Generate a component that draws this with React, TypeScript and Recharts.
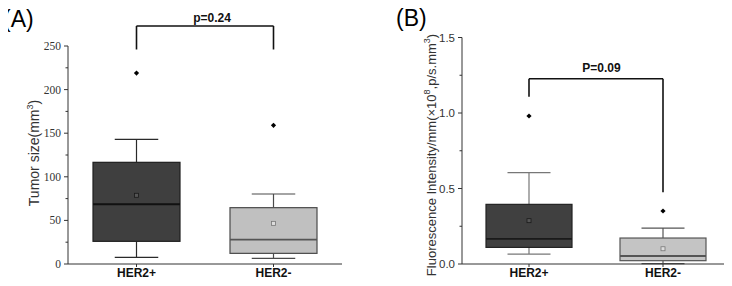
import { ComposedChart, Bar, Scatter, XAxis, YAxis, ReferenceLine } from "recharts";

const groups = ["HER2+", "HER2-"];

// (A) tumor size, mm³
const tumorMin = [7.7, 6.5];
const tumorQ1 = [26, 12.2];
const tumorMedian = [68.5, 28];
const tumorQ3 = [116.6, 64.6];
const tumorMax = [143, 80.3];
const tumorMean = [78.8, 46.6];
const tumorOutlier = [219, 159];
const tumorTicks = [0, 25, 50, 75, 100, 125, 150, 175, 200, 225, 250];

// (B) fluorescence intensity per mm³
const fluoMin = [0.066, 0.002];
const fluoQ1 = [0.11, 0.022];
const fluoMedian = [0.166, 0.053];
const fluoQ3 = [0.395, 0.172];
const fluoMax = [0.605, 0.238];
const fluoMean = [0.287, 0.101];
const fluoOutlier = [0.98, 0.351];
const fluoTicks = [0, 0.25, 0.5, 0.75, 1, 1.25, 1.5];

// significance brackets: [top, left leg end, right leg end]
const bracketA = [273, 246, 246];
const bracketB = [1.227, 1.108, 0.475];

type Palette = { fill: string; stroke: string; median: string; whisker: string; meanStroke: string; meanFill: string };

const paletteA: Palette[] = [
  { fill: "#3f3f3f", stroke: "#1e1e1e", median: "#111", whisker: "#2a2a2a", meanStroke: "#1a1a1a", meanFill: "#555" },
  { fill: "#c0c0c0", stroke: "#4a4a4a", median: "#555", whisker: "#4a4a4a", meanStroke: "#777", meanFill: "#ddd" },
];
const paletteB: Palette[] = [
  { fill: "#404040", stroke: "#222", median: "#1a1a1a", whisker: "#777", meanStroke: "#1a1a1a", meanFill: "#555" },
  { fill: "#c4c4c4", stroke: "#555", median: "#555", whisker: "#555", meanStroke: "#777", meanFill: "#ddd" },
];

function buildRows(min: number[], q1: number[], med: number[], q3: number[], max: number[], mean: number[], out: number[]) {
  return groups.map((name, i) => ({
    name,
    box: [q1[i], q3[i]],
    min: min[i],
    q1: q1[i],
    median: med[i],
    q3: q3[i],
    max: max[i],
    mean: mean[i],
    outlier: out[i],
  }));
}

const rowsA = buildRows(tumorMin, tumorQ1, tumorMedian, tumorQ3, tumorMax, tumorMean, tumorOutlier);
const rowsB = buildRows(fluoMin, fluoQ1, fluoMedian, fluoQ3, fluoMax, fluoMean, fluoOutlier);

// box + whiskers, scaled off the bar's own [q1, q3] extent
const BoxShape = (props: any) => {
  const { x, y, width, height, payload, palette } = props;
  const p: Palette = palette[groups.indexOf(payload.name)];
  const top = Math.min(y, y + height);
  const h = Math.abs(height);
  const k = h / (payload.q3 - payload.q1);
  const yOf = (v: number) => top + (payload.q3 - v) * k;
  const cx = x + width / 2;
  const cap = width / 4;
  return (
    <g>
      <line x1={cx} x2={cx} y1={yOf(payload.max)} y2={top} stroke={p.whisker} strokeWidth={1.2} />
      <line x1={cx - cap} x2={cx + cap} y1={yOf(payload.max)} y2={yOf(payload.max)} stroke={p.whisker} strokeWidth={1.2} />
      <line x1={cx} x2={cx} y1={top + h} y2={yOf(payload.min)} stroke={p.whisker} strokeWidth={1.2} />
      <line x1={cx - cap} x2={cx + cap} y1={yOf(payload.min)} y2={yOf(payload.min)} stroke={p.whisker} strokeWidth={1.2} />
      <rect x={x} y={top} width={width} height={h} fill={p.fill} stroke={p.stroke} strokeWidth={1.2} />
      <line x1={x} x2={x + width} y1={yOf(payload.median)} y2={yOf(payload.median)} stroke={p.median} strokeWidth={1.8} />
    </g>
  );
};

const MeanShape = (props: any) => {
  const { cx, cy, payload, palette } = props;
  const p: Palette = palette[groups.indexOf(payload.name)];
  return <rect x={cx - 2} y={cy - 2} width={4} height={4} fill={p.meanFill} stroke={p.meanStroke} strokeWidth={0.8} />;
};

const OutlierShape = (props: any) => {
  const { cx, cy } = props;
  return <path d={`M${cx},${cy - 2.6}L${cx + 2.6},${cy}L${cx},${cy + 2.6}L${cx - 2.6},${cy}Z`} fill="#000" />;
};

const YTick = (props: any) => {
  const { x, y, payload, major, format, font, gap } = props;
  const isMajor = major(payload.value);
  return (
    <g>
      <line x1={x - (isMajor ? 4 : 2.5)} x2={x} y1={y} y2={y} stroke="#333" strokeWidth={1} />
      {isMajor && (
        <text x={x - gap} y={y} dy="0.35em" textAnchor="end" fontFamily={font} fontSize={11.5} fill="#333">
          {format(payload.value)}
        </text>
      )}
    </g>
  );
};

const XTick = (props: any) => {
  const { x, y, payload } = props;
  return (
    <text x={x} y={y + 8} textAnchor="middle" fontFamily="'Liberation Sans', Arial, sans-serif" fontWeight="bold" fontSize={12} fill="#111">
      {payload.value}
    </text>
  );
};

const BracketLabel = (props: any) => {
  const { viewBox, text, dx, lift } = props;
  if (!viewBox) return null;
  return (
    <text
      x={viewBox.x + viewBox.width / 2 + dx}
      y={viewBox.y - lift}
      textAnchor="middle"
      fontFamily="'Liberation Sans', Arial, sans-serif"
      fontWeight="bold"
      fontSize={12}
      fill="#111"
    >
      {text}
    </text>
  );
};

function Bracket(b: number[], text: string, dx: number, lift: number) {
  return [
    <ReferenceLine key="l" segment={[{ x: groups[0], y: b[1] }, { x: groups[0], y: b[0] }]} stroke="#111" strokeWidth={1.6} ifOverflow="visible" />,
    <ReferenceLine
      key="t"
      segment={[{ x: groups[0], y: b[0] }, { x: groups[1], y: b[0] }]}
      stroke="#111"
      strokeWidth={1.6}
      ifOverflow="visible"
      label={<BracketLabel text={text} dx={dx} lift={lift} />}
    />,
    <ReferenceLine key="r" segment={[{ x: groups[1], y: b[0] }, { x: groups[1], y: b[2] }]} stroke="#111" strokeWidth={1.6} ifOverflow="visible" />,
  ];
}

const sans = "'Liberation Sans', Arial, sans-serif";

export default function App() {
  return (
    <div style={{ position: "relative", width: 732, height: 286, margin: -8, background: "#fff" }}>
      <div style={{ position: "absolute", left: 0, top: 0 }}>
        <ComposedChart width={360} height={286} data={rowsA} margin={{ top: 46, right: 18, bottom: 0, left: 0 }}>
          <XAxis dataKey="name" height={22} stroke="#333" tickSize={3} tick={<XTick />} />
          <YAxis
            width={68}
            domain={[0, 250]}
            ticks={tumorTicks}
            interval={0}
            stroke="#333"
            tickSize={0}
            tickMargin={0}
            tick={
              <YTick
                major={(v: number) => v % 50 === 0}
                format={(v: number) => String(v)}
                font="'Liberation Serif', 'Times New Roman', serif"
                gap={7}
              />
            }
          />
          <Bar dataKey="box" barSize={87} isAnimationActive={false} shape={(p: any) => <BoxShape {...p} palette={paletteA} />} />
          <Scatter dataKey="mean" isAnimationActive={false} shape={(p: any) => <MeanShape {...p} palette={paletteA} />} />
          <Scatter dataKey="outlier" isAnimationActive={false} shape={<OutlierShape />} />
          {Bracket(bracketA, "p=0.24", 7, 4)}
        </ComposedChart>
      </div>
      <div style={{ position: "absolute", left: 370, top: 0 }}>
        <ComposedChart width={362} height={286} data={rowsB} margin={{ top: 37.5, right: 2, bottom: 0, left: 0 }}>
          <XAxis dataKey="name" height={22} stroke="#333" tickSize={3} tick={<XTick />} />
          <YAxis
            width={92}
            domain={[0, 1.5]}
            ticks={fluoTicks}
            interval={0}
            stroke="#333"
            tickSize={0}
            tickMargin={0}
            tick={
              <YTick
                major={(v: number) => Math.abs(v * 2 - Math.round(v * 2)) < 1e-6}
                format={(v: number) => v.toFixed(1)}
                font={sans}
                gap={7}
              />
            }
          />
          <Bar dataKey="box" barSize={86} isAnimationActive={false} shape={(p: any) => <BoxShape {...p} palette={paletteB} />} />
          <Scatter dataKey="mean" isAnimationActive={false} shape={(p: any) => <MeanShape {...p} palette={paletteB} />} />
          <Scatter dataKey="outlier" isAnimationActive={false} shape={<OutlierShape />} />
          {Bracket(bracketB, "P=0.09", 5.5, 7)}
        </ComposedChart>
      </div>
      <svg width={732} height={286} style={{ position: "absolute", left: 0, top: 0, pointerEvents: "none" }}>
        <text x={3} y={27} fontFamily={sans} fontSize={23} fill="#000">(A)</text>
        <text x={396} y={26} fontFamily={sans} fontSize={23} fill="#000">(B)</text>
        <text transform="translate(39,153) rotate(-90)" textAnchor="middle" fontFamily={sans} fontSize={14} fill="#333">
          Tumor size(mm<tspan dy={-6} fontSize={9}>3</tspan>
          <tspan dy={6}>)</tspan>
        </text>
        <text transform="translate(436,155) rotate(-90)" textAnchor="middle" fontFamily={sans} fontSize={13} fill="#333">
          Fluorescence Intensity/mm(×10<tspan dy={-6} fontSize={9}>8</tspan>
          <tspan dy={6}>,p/s.mm</tspan>
          <tspan dy={-6} fontSize={9}>3</tspan>
          <tspan dy={6}>)</tspan>
        </text>
      </svg>
    </div>
  );
}
